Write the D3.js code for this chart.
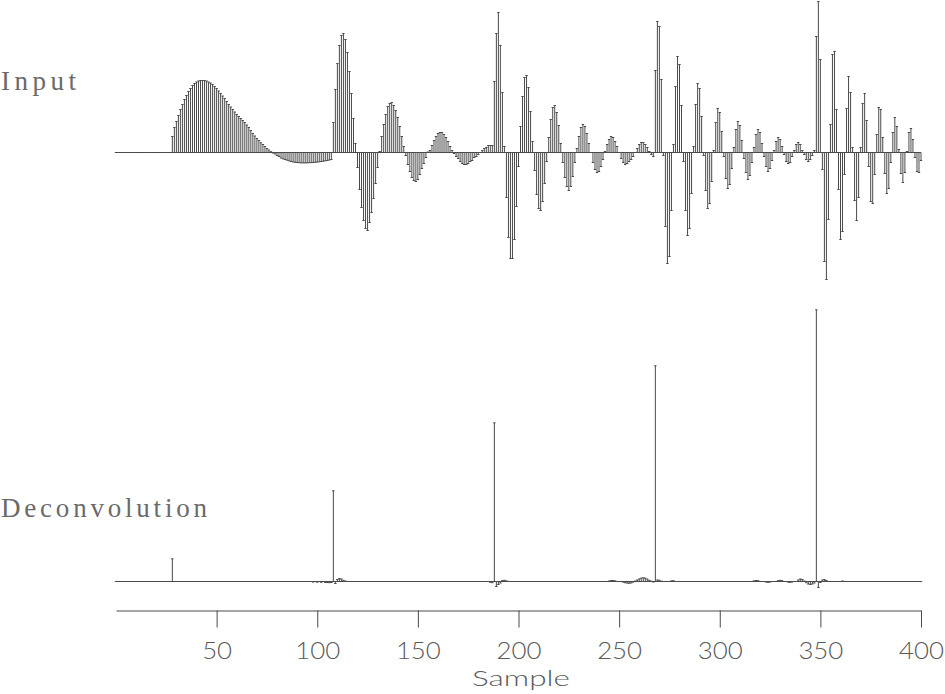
<!DOCTYPE html>
<html>
<head>
<meta charset="utf-8">
<script src="https://cdn.jsdelivr.net/npm/d3@7/dist/d3.min.js"></script>
<style>
  body { margin: 0; background: #fff; }
</style>
</head>
<body>
<script>
// input trace, one value per sample (0..400)
var inputTrace = [
  0, 0, 0, 0, 0, 0, 0, 0, 0, 0,                                  // 0
  0, 0, 0, 0, 0, 0, 0, 0, 0, 0,                                  // 10
  0, 0, 0, 0, 0, 0, 0, 0, 16, 25,                                // 20
  31, 37, 43, 48, 53, 57, 61, 64, 67, 69,                        // 30
  70.5, 71.5, 72, 72, 72, 71.5, 70.5, 69.5, 68, 66,              // 40
  64, 61.5, 59, 56.5, 54, 51, 48, 45.5, 43, 40.5,                // 50
  38, 36, 34, 32, 30, 27.5, 25, 22, 19, 16.5,                    // 60
  14, 12, 9.7, 8, 6, 4, 2.5, 0.8, -0.5, -1.5,                    // 70
  -3, -4, -5.5, -6.3, -7, -7.7, -8.3, -9, -9.4, -9.8,            // 80
  -10, -10.2, -10.3, -10.4, -10.4, -10.3, -10.2, -10.1, -10, -9.8, // 90
  -9.5, -9.3, -9, -8.7, -8.3, -8, -7.5, -7, 30, 63,              // 100
  89, 107, 117, 119, 113, 100, 81, 59, 34, 9,                    // 110
  -15, -37, -55, -68, -76, -78, -70, -60, -46, -31,              // 120
  -15, 1, 16, 28, 38, 46, 49, 50, 47, 42,                        // 130
  35, 26, 16, 6, -3, -12, -19, -25, -28, -29,                    // 140
  -27, -22, -16, -11, -5, 0.5, 2, 7, 12, 16,                     // 150
  19, 20, 20, 18, 15, 11, 6, 2, -1, -4,                          // 160
  -6, -9, -11, -12, -12, -11, -9, -8, -5, -4,                    // 170
  -2, 0, 2, 4, 5, 7, 7, 7, 71, 119,                              // 180
  140, 107, 60, 6, -45, -85, -106, -106, -87, -54,               // 190
  -14, 26, 56, 75, 77, 65, 41, 11, -18, -42,                     // 200
  -56, -58, -49, -31, -9, 15, 33, 45, 47, 40,                    // 210
  27, 9, -10, -25, -34, -38, -34, -24, -10, 4,                   // 220
  16, 25, 28, 26, 19, 9, 0, -10, -17, -20,                       // 230
  -19, -14, -7, 1, 8, 13, 16, 15, 11, 6,                         // 240
  0, -6, -10, -12, -11, -9, -7, -4, 0, 4,                        // 250
  8, 10, 10, 8, 5, 1, -2, -4, 82, 131,                           // 260
  126, 73, -3, -74, -111, -104, -58, 8, 66, 96,                  // 270
  88, 47, -9, -58, -83, -76, -41, 6, 48, 69,                     // 280
  64, 36, -3, -38, -56, -51, -29, 2, 30, 44,                     // 290
  40, 21, -4, -26, -36, -32, -16, 5, 23, 31,                     // 300
  27, 12, -6, -20, -27, -23, -10, 5, 18, 23,                     // 310
  20, 9, -4, -14, -19, -16, -8, 2, 11, 15,                       // 320
  13, 6, -2, -9, -11, -10, -4, 2, 8, 10,                         // 330
  8, 2, -2, -7, -9, -7, -3, 2, 116, 151,                         // 340
  93, -17, -109, -127, -67, 28, 98, 101, 43, -37,                // 350
  -87, -79, -22, 44, 76, 60, 5, -48, -68, -45,                   // 360
  5, 49, 59, 32, -14, -49, -51, -22, 18, 45,                     // 370
  43, 15, -21, -41, -36, -10, 20, 35, 26, 3,                     // 380
  -21, -30, -20, 1, 20, 24, 13, -5, -19, -20,                    // 390
  -8                                                             // 400
];

// deconvolution output: non-zero samples only
var deconIndex = [28, 98, 100, 102, 104, 105, 106, 107, 108, 109, 110, 111, 112, 113, 114,
  186, 187, 188, 189, 190, 191, 192, 193, 194,
  245, 246, 247, 248, 252, 253, 254, 255, 256, 257, 258, 259, 260, 261, 262, 263, 264, 265, 266, 267,
  268, 269, 270, 271, 276, 277,
  317, 318, 319, 323, 324, 325, 329, 330, 331, 334, 335, 336, 339, 340, 341, 342, 343, 344, 345, 346, 347,
  348, 349, 350, 351, 352, 353, 361];
var deconValue = [22.7, -0.5, -0.7, -0.8, -1, -1, -1.2, -1, 90.7, -2, 2, 3, 2.5, 1.2, 0.5,
  -0.8, -1.2, 158.7, -5, -3, -1.5, 1, 1.2, 0.6,
  0.5, 1, 1, 0.6, -0.6, -1.2, -1.6, -1.8, -1.4, -0.6, 0.5, 1.5, 2.6, 3.4, 3.7, 3.3, 2.4, 1.2, 0.3, -0.5,
  215.7, 1.5, 1.2, 0.3, 0.6, 0.8,
  0.6, 1, 0.8, -0.5, -0.8, -0.5, 0.8, 1.2, 0.8, -0.6, -0.8, -0.5, 1.5, 2.5, 2, 0.5, -1.2, -2.5, -3, -2.5, -1.5,
  271.7, -6, -1, 1.5, 2, 1, 0.5];

var xTicks = [50, 100, 150, 200, 250, 300, 350, 400];
var axisTitle = "Sample";

var w = 945, h = 694;
var ink = "#4a4a4a";
var textInk = "#5a5a5a";

var svg = d3.select("body").append("svg")
  .attr("width", w)
  .attr("height", h);

var x = d3.scaleLinear().domain([0, 400]).range([116, 921]);
var yIn = d3.scaleLinear().domain([0, 100]).range([152.5, 52.5]);
var yDe = d3.scaleLinear().domain([0, 100]).range([581.5, 481.5]);

var decon = inputTrace.map(function() { return 0; });
deconIndex.forEach(function(s, i) { decon[s] = deconValue[i]; });

function drawTrace(data, y) {
  var g = svg.append("g");

  g.append("line")
    .attr("x1", x(0)).attr("x2", x(400))
    .attr("y1", y(0)).attr("y2", y(0))
    .attr("stroke", ink).attr("stroke-width", 1);

  // sticks
  g.selectAll("line.stick")
    .data(data)
    .enter()
    .append("line")
    .attr("class", "stick")
    .attr("x1", function(d, i) { return x(i); })
    .attr("x2", function(d, i) { return x(i); })
    .attr("y1", y(0))
    .attr("y2", function(d) { return y(d); })
    .attr("stroke", ink)
    .attr("stroke-width", 1);

  // little caps on top of each stick
  g.selectAll("line.cap")
    .data(data)
    .enter()
    .append("line")
    .attr("class", "cap")
    .attr("x1", function(d, i) { return x(i) - 1.2; })
    .attr("x2", function(d, i) { return x(i) + 1.2; })
    .attr("y1", function(d) { return y(d); })
    .attr("y2", function(d) { return y(d); })
    .attr("stroke", ink)
    .attr("stroke-width", 1);
}

drawTrace(inputTrace, yIn);
drawTrace(decon, yDe);

// trace labels
svg.append("text")
  .text("Input")
  .attr("x", 1).attr("y", 90)
  .attr("textLength", 75).attr("lengthAdjust", "spacing")
  .attr("font-family", "Liberation Serif")
  .attr("font-size", "27px")
  .attr("fill", "#6a6a6a");

svg.append("text")
  .text("Deconvolution")
  .attr("x", 1).attr("y", 517)
  .attr("textLength", 206).attr("lengthAdjust", "spacing")
  .attr("font-family", "Liberation Serif")
  .attr("font-size", "27px")
  .attr("fill", "#6a6a6a");

// axis
var axis = d3.axisBottom(x)
  .tickValues(xTicks)
  .tickSize(17)
  .tickSizeOuter(0)
  .tickPadding(15);

var ag = svg.append("g")
  .attr("transform", "translate(0,610.5)")
  .call(axis);

ag.select(".domain").attr("stroke", ink);
ag.selectAll(".tick line").attr("stroke", ink);
ag.selectAll(".tick text")
  .attr("font-family", "Lato")
  .attr("font-weight", 300)
  .attr("font-size", "23px")
  .attr("textLength", function(d) { return String(d).length * 15; })
  .attr("lengthAdjust", "spacingAndGlyphs")
  .attr("fill", textInk);

svg.append("text")
  .text(axisTitle)
  .attr("x", 521).attr("y", 686)
  .attr("text-anchor", "middle")
  .attr("textLength", 98).attr("lengthAdjust", "spacingAndGlyphs")
  .attr("font-family", "Lato")
  .attr("font-weight", 300)
  .attr("font-size", "22px")
  .attr("fill", textInk);
</script>
</body>
</html>
